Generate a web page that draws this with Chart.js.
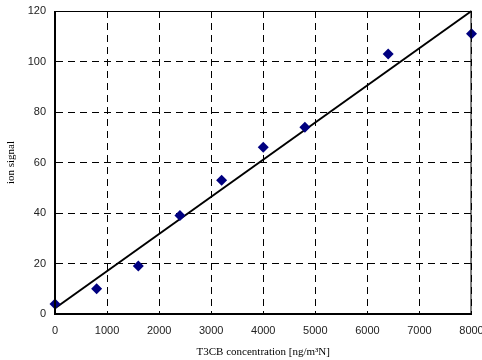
<!DOCTYPE html>
<html>
<head>
<meta charset="utf-8">
<script src="https://cdn.jsdelivr.net/npm/chart.js@4.4.0/dist/chart.umd.min.js"></script>
<style>
  html, body { margin: 0; padding: 0; background: #fff; overflow: hidden; }
  #wrap { width: 482px; height: 360px; }
</style>
</head>
<body>
<div id="wrap"><canvas id="myChart"></canvas></div>
<script>
// measured points
const concentration = [0, 800, 1600, 2400, 3200, 4000, 4800, 6400, 8000];
const ionSignal = [4, 10, 19, 39, 53, 66, 74, 103, 111];
// fitted line end points
const fitX = [0, 8000];
const fitY = [2.3, 120];

const xTicks = [0, 1000, 2000, 3000, 4000, 5000, 6000, 7000, 8000];
const yTicks = [0, 20, 40, 60, 80, 100, 120];

// solid frame round the plot area
const frame = {
    id: 'frame',
    afterDatasetsDraw(chart) {
        const a = chart.chartArea;
        const c = chart.ctx;
        c.save();
        c.strokeStyle = '#000';
        c.lineWidth = 1;
        c.strokeRect(a.left + 0.5, a.top + 0.5, a.right - a.left - 1, a.bottom - a.top - 1);
        c.lineWidth = 2;
        c.beginPath();
        c.moveTo(a.left, a.top);
        c.lineTo(a.left, a.bottom);
        c.lineTo(a.right, a.bottom);
        c.stroke();
        c.restore();
    }
};

const ctx = document.getElementById('myChart').getContext('2d');
const myChart = new Chart(ctx, {
    type: 'scatter',
    data: {
        datasets: [{
            label: 'fit',
            data: fitX.map((x, i) => ({x: x, y: fitY[i]})),
            showLine: true,
            borderColor: '#000',
            borderWidth: 2,
            pointRadius: 0,
            clip: false,
            order: 2
        }, {
            label: 'ion signal',
            data: concentration.map((x, i) => ({x: x, y: ionSignal[i]})),
            pointStyle: 'rectRot',
            pointRadius: 5.5,
            backgroundColor: '#000080',
            borderColor: '#000080',
            borderWidth: 0,
            clip: false,
            order: 1
        }]
    },
    options: {
        responsive: true,
        maintainAspectRatio: false,
        animation: false,
        layout: { padding: 0 },
        plugins: {
            legend: { display: false },
            tooltip: { enabled: false }
        },
        scales: {
            x: {
                type: 'linear',
                min: 0,
                max: 8000,
                afterBuildTicks: s => { s.ticks = xTicks.map(v => ({value: v})); },
                afterFit: s => {
                    s.height = 46;
                    s.paddingLeft = 0;
                    s.paddingRight = 10.5;
                },
                grid: {
                    color: '#000',
                    lineWidth: 1,
                    drawTicks: false
                },
                border: { display: true, dash: [7, 5], color: '#000' },
                ticks: {
                    padding: 10,
                    color: '#222',
                    maxRotation: 0,
                    callback: v => String(v),
                    font: { family: 'Liberation Sans', size: 11 }
                },
                title: {
                    display: true,
                    text: 'T3CB concentration [ng/m³N]',
                    color: '#000',
                    padding: { top: 0, bottom: 1 },
                    font: { family: 'Liberation Serif', size: 11 }
                }
            },
            y: {
                min: 0,
                max: 120,
                afterBuildTicks: s => { s.ticks = yTicks.map(v => ({value: v})); },
                afterFit: s => {
                    s.width = 55;
                    s.paddingTop = 11;
                    s.paddingBottom = 0;
                },
                grid: {
                    color: '#000',
                    lineWidth: 1,
                    drawTicks: false
                },
                border: { display: true, dash: [7, 5], color: '#000' },
                ticks: {
                    padding: 9,
                    color: '#222',
                    callback: v => String(v),
                    font: { family: 'Liberation Sans', size: 11 }
                },
                title: {
                    display: true,
                    text: 'ion signal',
                    color: '#000',
                    padding: { top: 5, bottom: 0 },
                    font: { family: 'Liberation Serif', size: 11 }
                }
            }
        }
    },
    plugins: [frame]
});
</script>
</body>
</html>
